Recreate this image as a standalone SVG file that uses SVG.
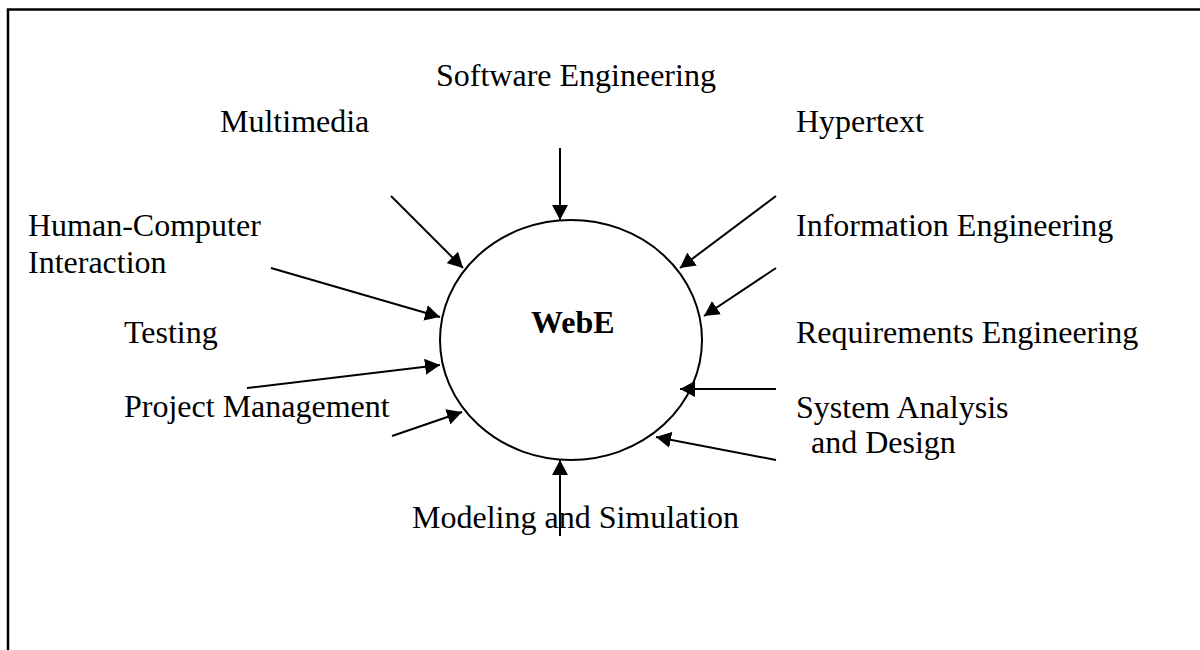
<svg xmlns="http://www.w3.org/2000/svg" width="1200" height="650" viewBox="0 0 1200 650">
  <style>
    .label { font-family: "Liberation Serif", "Times New Roman", serif; font-size: 32px; fill: #000; }
    .hub { font-family: "Liberation Serif", "Times New Roman", serif; font-size: 32px; font-weight: bold; fill: #000; }
    .edge { stroke: #000; stroke-width: 2; fill: none; marker-end: url(#arrow); }
    .frame { stroke: #000; stroke-width: 2.5; fill: none; }
  </style>
  <defs>
    <marker id="arrow" markerUnits="userSpaceOnUse" markerWidth="16" markerHeight="16" refX="15" refY="8" orient="auto">
      <path d="M0,0 L15,8 L0,16 z" fill="#000"/>
    </marker>
  </defs>

  <rect width="1200" height="650" fill="#fff"/>

  <!-- open frame: top and left rules only -->
  <path class="frame" d="M8,650 L8,9.5 L1200,9.5"/>

  <!-- central node -->
  <g id="webe">
    <ellipse cx="571" cy="340" rx="131" ry="120" fill="none" stroke="#000" stroke-width="2"/>
    <text class="hub" x="531" y="333">WebE</text>
  </g>

  <!-- contributing disciplines -->
  <g id="software-engineering"><text class="label" x="436" y="86">Software Engineering</text></g>
  <g id="multimedia"><text class="label" x="220" y="132">Multimedia</text></g>
  <g id="hypertext"><text class="label" x="796" y="132">Hypertext</text></g>
  <g id="hci">
    <text class="label" x="28" y="236">Human-Computer</text>
    <text class="label" x="28" y="273">Interaction</text>
  </g>
  <g id="information-engineering"><text class="label" x="796" y="236">Information Engineering</text></g>
  <g id="testing"><text class="label" x="124" y="343">Testing</text></g>
  <g id="requirements-engineering"><text class="label" x="796" y="343">Requirements Engineering</text></g>
  <g id="project-management"><text class="label" x="124" y="417">Project Management</text></g>
  <g id="system-analysis">
    <text class="label" x="796" y="418">System Analysis</text>
    <text class="label" x="811" y="453">and Design</text>
  </g>
  <g id="modeling-simulation"><text class="label" x="412" y="528">Modeling and Simulation</text></g>

  <!-- connectors into the hub -->
  <g id="connectors">
    <line class="edge" x1="560" y1="148" x2="560" y2="220"/>
    <line class="edge" x1="391" y1="196" x2="463" y2="268"/>
    <line class="edge" x1="776" y1="196" x2="680" y2="268"/>
    <line class="edge" x1="776" y1="268" x2="704" y2="316"/>
    <line class="edge" x1="271" y1="268" x2="440" y2="317"/>
    <line class="edge" x1="247" y1="388" x2="440" y2="365"/>
    <line class="edge" x1="392" y1="436" x2="462" y2="412"/>
    <line class="edge" x1="776" y1="389" x2="680" y2="389"/>
    <line class="edge" x1="776" y1="460" x2="656" y2="437"/>
    <line class="edge" x1="560" y1="536" x2="560" y2="460"/>
  </g>
</svg>
